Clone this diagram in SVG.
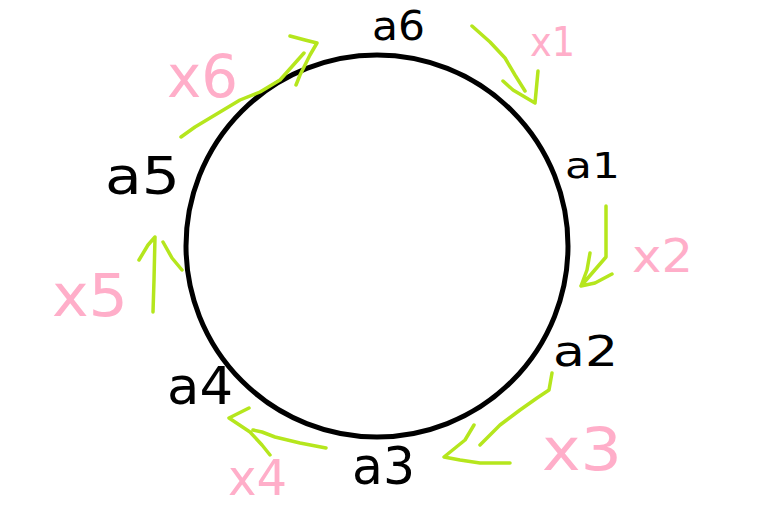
<svg xmlns="http://www.w3.org/2000/svg" width="773" height="530" viewBox="0 0 773 530">
<style>
.node{font-family:"DejaVu Sans","Liberation Sans",sans-serif;fill:#000}
.lbl{font-family:"DejaVu Sans","Liberation Sans",sans-serif;fill:#ffaec9}
.arr{fill:none;stroke:#b5e61d;stroke-width:3.5;stroke-linecap:round;stroke-linejoin:round}
</style>
<rect width="773" height="530" fill="#fff"/>
<g id="ring"><circle cx="377" cy="246" r="191" fill="none" stroke="#000" stroke-width="5"/></g>
<g id="node-a6"><text class="node" x="372" y="40" font-size="40" textLength="53" lengthAdjust="spacingAndGlyphs">a6</text></g>
<g id="node-a1"><text class="node" x="565" y="178" font-size="36" textLength="55" lengthAdjust="spacingAndGlyphs">a1</text></g>
<g id="node-a2"><text class="node" x="553" y="366" font-size="42" textLength="65" lengthAdjust="spacingAndGlyphs">a2</text></g>
<g id="node-a3"><text class="node" x="352" y="484" font-size="52" textLength="63" lengthAdjust="spacingAndGlyphs">a3</text></g>
<g id="node-a4"><text class="node" x="167" y="404" font-size="52" textLength="66" lengthAdjust="spacingAndGlyphs">a4</text></g>
<g id="node-a5"><text class="node" x="105" y="194" font-size="52" textLength="75" lengthAdjust="spacingAndGlyphs">a5</text></g>
<g id="connectors">
<g id="edge-x1"><path class="arr" d="M472 26 L490 42 L505 58 L515 75 L525 91 M503 81 L513 90 L535 103 L538 71"/><text class="lbl" x="530" y="56" font-size="40" textLength="45" lengthAdjust="spacingAndGlyphs">x1</text></g>
<g id="edge-x2"><path class="arr" d="M606 206 L606 257 L581 286 M590 253 L587 270 L581 286 L595 283 L612 274"/><text class="lbl" x="632" y="272" font-size="46" textLength="61" lengthAdjust="spacingAndGlyphs">x2</text></g>
<g id="edge-x3"><path class="arr" d="M552 373 L549 390 L537 398 L520 410 L500 425 L480 445 M474 425 L465 440 L444 457 L460 460 L480 463 L510 463"/><text class="lbl" x="542" y="470" font-size="58" textLength="80" lengthAdjust="spacingAndGlyphs">x3</text></g>
<g id="edge-x4"><path class="arr" d="M326 448 L300 443 L275 437 L262 432 L253 430 M249 408 L229 418 L250 432 L262 445 L270 455"/><text class="lbl" x="228" y="495" font-size="50" textLength="59" lengthAdjust="spacingAndGlyphs">x4</text></g>
<g id="edge-x5"><path class="arr" d="M153 312 L154 280 L155 237 M139 260 L148 245 L155 237 M163 242 L172 258 L182 270"/><text class="lbl" x="52" y="316" font-size="58" textLength="76" lengthAdjust="spacingAndGlyphs">x5</text></g>
<g id="edge-x6"><path class="arr" d="M181 137 L195 127 L220 112 L240 100 L260 92 L280 80 L304 53 M290 36 L305 40 L317 43 L310 55 L300 75 L296 85"/><text class="lbl" x="167" y="97" font-size="58" textLength="71" lengthAdjust="spacingAndGlyphs">x6</text></g>
</g>
</svg>
